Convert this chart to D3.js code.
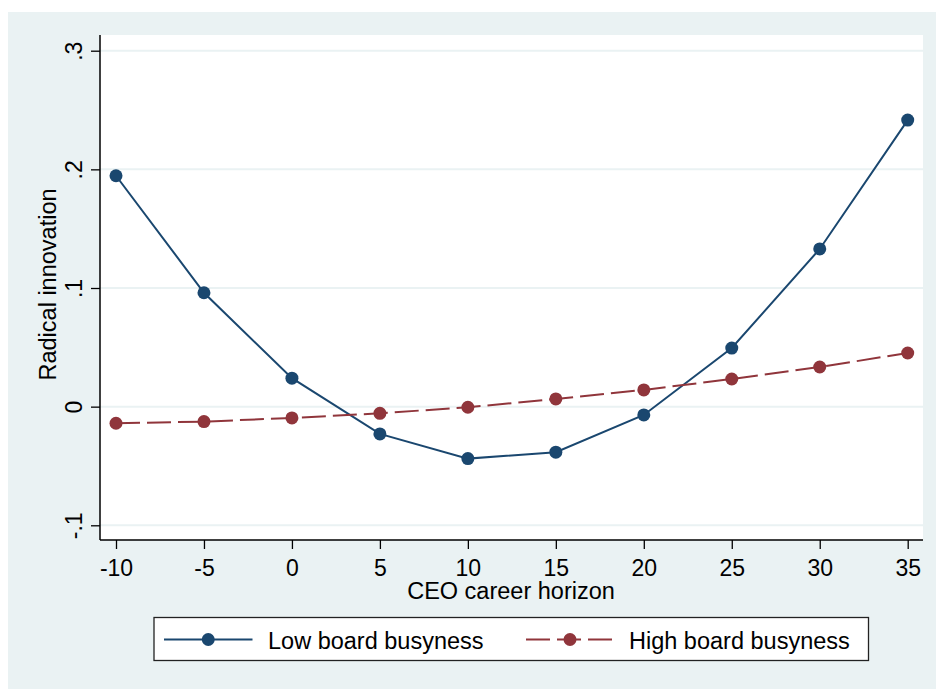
<!DOCTYPE html>
<html>
<head>
<meta charset="utf-8">
<script src="https://cdn.jsdelivr.net/npm/d3@7"></script>
<style>
  html, body { margin: 0; padding: 0; background: #ffffff; }
  svg { display: block; }
  text { font-family: "Liberation Sans", Arial, Helvetica, sans-serif; fill: #000; }
</style>
</head>
<body>
<svg id="chart" width="936" height="689"></svg>
<script>
// Career horizon (years) and predicted radical innovation by board busyness
const horizon = [-10, -5, 0, 5, 10, 15, 20, 25, 30, 35];
const lowBusyness = [0.1946, 0.0960, 0.0240, -0.0230, -0.0438, -0.0384, -0.0070, 0.0494, 0.1329, 0.2415];
const highBusyness = [-0.0140, -0.0126, -0.0095, -0.0056, -0.0005, 0.0065, 0.0141, 0.0233, 0.0334, 0.0452];
const xTicks = [-10, -5, 0, 5, 10, 15, 20, 25, 30, 35];
const yTicks = [-0.1, 0, 0.1, 0.2, 0.3];
const yTickLabels = ["-.1", "0", ".1", ".2", ".3"];
const seriesNames = ["Low board busyness", "High board busyness"];

const svg = d3.select("#chart");
const W = 936, H = 689;
const plot = { left: 100, right: 923, top: 35, bottom: 540 };
const colors = { low: "#1a476f", high: "#90353b", bg: "#eaf2f3", grid: "#eaf2f3" };

// Outer graph region
svg.append("rect").attr("x", 8).attr("y", 12).attr("width", W - 8).attr("height", H - 12)
  .attr("fill", colors.bg);
// Plot region
svg.append("rect").attr("x", plot.left).attr("y", plot.top)
  .attr("width", plot.right - plot.left).attr("height", plot.bottom - plot.top)
  .attr("fill", "#ffffff");

const x = d3.scaleLinear().domain([-10, 35]).range([116, 907.7]);
const y = d3.scaleLinear().domain([-0.1, 0.3]).range([525.3, 50.7]);

// Horizontal grid lines
svg.append("g").selectAll("line").data(yTicks).join("line")
  .attr("x1", plot.left).attr("x2", plot.right)
  .attr("y1", d => y(d)).attr("y2", d => y(d))
  .attr("stroke", colors.grid).attr("stroke-width", 2);

// Y axis
const yAxis = d3.axisLeft(y).tickValues(yTicks)
  .tickFormat((d, i) => yTickLabels[i]).tickSize(9).tickPadding(9);
const gy = svg.append("g").attr("transform", `translate(${plot.left},0)`).call(yAxis);
gy.select(".domain").remove();
gy.selectAll(".tick line").attr("stroke", "#000").attr("stroke-width", 1.3);
gy.selectAll(".tick text")
  .attr("font-size", 23).attr("x", null).attr("dy", null)
  .attr("text-anchor", "middle")
  .attr("transform", "translate(-18,0) rotate(-90)")
  .attr("y", 0);
svg.append("line").attr("x1", plot.left).attr("x2", plot.left)
  .attr("y1", plot.top).attr("y2", plot.bottom)
  .attr("stroke", "#000").attr("stroke-width", 1.5);

// X axis
const xAxis = d3.axisBottom(x).tickValues(xTicks).tickFormat(d3.format("d"))
  .tickSize(9).tickPadding(6);
const gx = svg.append("g").attr("transform", `translate(0,${plot.bottom})`).call(xAxis);
gx.select(".domain").remove();
gx.selectAll(".tick line").attr("stroke", "#000").attr("stroke-width", 1.3);
gx.selectAll(".tick text").attr("font-size", 23).attr("dy", null).attr("y", 35.5)
  .text(d => d < 0 ? "-" + Math.abs(d) : String(d));
svg.append("line").attr("x1", plot.left).attr("x2", plot.right)
  .attr("y1", plot.bottom).attr("y2", plot.bottom)
  .attr("stroke", "#000").attr("stroke-width", 1.5);

// Axis titles
svg.append("text").attr("x", (plot.left + plot.right) / 2 - 0.5).attr("y", 599)
  .attr("text-anchor", "middle").attr("font-size", 23.5).text("CEO career horizon");
svg.append("text").attr("transform", `translate(56,${(plot.top + plot.bottom) / 2 - 3}) rotate(-90)`)
  .attr("text-anchor", "middle").attr("font-size", 23.5).text("Radical innovation");

// Series
const line = d3.line().x(d => x(d[0])).y(d => y(d[1]));
const series = [
  { key: "low", values: lowBusyness, color: colors.low, dash: null },
  { key: "high", values: highBusyness, color: colors.high, dash: "24,7" }
];
series.forEach(s => {
  const pts = horizon.map((h, i) => [h, s.values[i]]);
  svg.append("path").datum(pts).attr("d", line)
    .attr("fill", "none").attr("stroke", s.color).attr("stroke-width", 2)
    .attr("stroke-dasharray", s.dash);
  svg.append("g").selectAll("circle").data(pts).join("circle")
    .attr("cx", d => x(d[0])).attr("cy", d => y(d[1])).attr("r", 6.5)
    .attr("fill", s.color);
});

// Legend
svg.append("rect").attr("x", 154).attr("y", 617.5).attr("width", 714.5).attr("height", 43)
  .attr("fill", "#ffffff").attr("stroke", "#222").attr("stroke-width", 1.3);
const legendItems = [
  { x0: 164, x1: 252.5, text: 268, color: colors.low, dash: null, name: seriesNames[0] },
  { x0: 526, x1: 614, text: 629, color: colors.high, dash: "24,7", name: seriesNames[1] }
];
legendItems.forEach(it => {
  svg.append("line").attr("x1", it.x0).attr("x2", it.x1).attr("y1", 639.5).attr("y2", 639.5)
    .attr("stroke", it.color).attr("stroke-width", 2).attr("stroke-dasharray", it.dash);
  svg.append("circle").attr("cx", (it.x0 + it.x1) / 2).attr("cy", 639.5).attr("r", 6.5)
    .attr("fill", it.color);
  svg.append("text").attr("x", it.text).attr("y", 649).attr("font-size", 23.5).text(it.name);
});
</script>
</body>
</html>
